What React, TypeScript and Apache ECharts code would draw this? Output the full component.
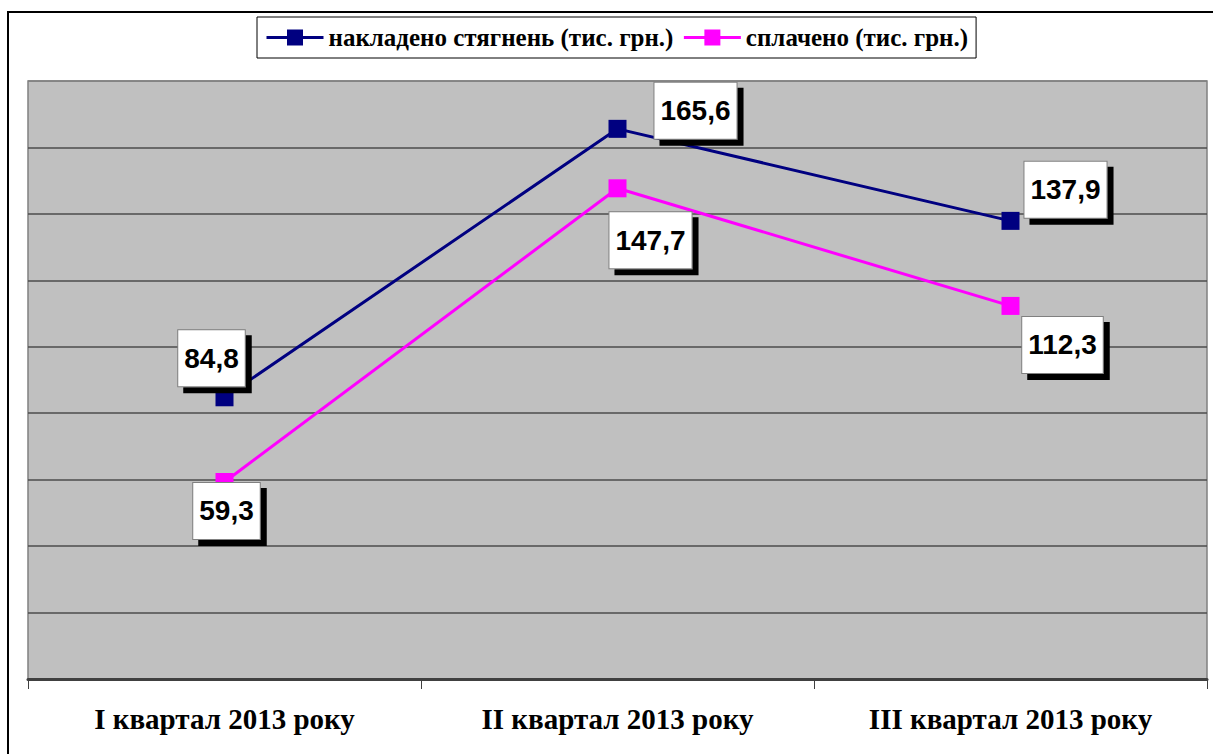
import React, { useEffect, useRef } from "react";
import * as echarts from "echarts";

const categories = ["I квартал 2013 року", "II квартал 2013 року", "III квартал 2013 року"];
const seriesNames = ["накладено стягнень (тис. грн.)", "сплачено (тис. грн.)"];
const imposed = [84.8, 165.6, 137.9];
const paid = [59.3, 147.7, 112.3];
const yMin = 0;
const yMax = 180;
const yInterval = 20;

// label placement offsets (style, not data)
const imposedOffsets = [[-13, -39], [78, -18], [55, -31]];
const paidOffsets = [[2, 29], [33, 52], [52, 39]];

const fmt = (v: number) => v.toFixed(1).replace(".", ",");

const labelStyle = {
  show: true,
  position: "inside",
  fontFamily: "Liberation Sans, Arial, sans-serif",
  fontWeight: "bold",
  fontSize: 28,
  lineHeight: 32,
  color: "#000",
  backgroundColor: "#fff",
  borderColor: "#808080",
  borderWidth: 1,
  padding: [12, 6, 12, 6],
  shadowColor: "#000",
  shadowBlur: 0,
  shadowOffsetX: 6,
  shadowOffsetY: 6,
};

export default function App() {
  const ref = useRef<HTMLDivElement>(null);
  useEffect(() => {
    if (!ref.current) return;
    const chart = echarts.init(ref.current, null, { renderer: "svg" });
    const mk = (vals: number[], offs: number[][]) =>
      vals.map((v, i) => ({
        value: v,
        label: { offset: offs[i], formatter: () => fmt(v) },
      }));
    const splitColors = Array.from({ length: 10 }, (_, i) => (i === 9 ? "#808080" : "#4d4d4d"));
    chart.setOption({
      animation: false,
      backgroundColor: "#fff",
      graphic: [
        {
          type: "rect",
          shape: { x: 8, y: 12, width: 1400, height: 900 },
          style: { fill: "none", stroke: "#000", lineWidth: 2 },
          z: 100,
        },
      ],
      legend: {
        left: 257,
        top: 17,
        padding: [8, 8, 8, 8],
        backgroundColor: "#fff",
        borderColor: "#000",
        borderWidth: 1,
        itemWidth: 57,
        itemHeight: 20,
        itemGap: 9,
        lineStyle: { width: 3 },
        textStyle: {
          fontFamily: "Liberation Serif, Times New Roman, serif",
          fontWeight: "bold",
          fontSize: 25,
          color: "#000",
        },
        data: seriesNames,
      },
      grid: {
        left: 28,
        right: 6,
        top: 81,
        bottom: 75,
        show: true,
        backgroundColor: "#C0C0C0",
        borderColor: "#808080",
        borderWidth: 1.5,
      },
      xAxis: {
        type: "category",
        data: categories,
        boundaryGap: true,
        axisLine: { lineStyle: { color: "#404040", width: 3 } },
        axisTick: { show: true, length: 10, interval: 0, lineStyle: { color: "#404040", width: 1 } },
        axisLabel: {
          margin: 25,
          fontFamily: "Liberation Serif, Times New Roman, serif",
          fontWeight: "bold",
          fontSize: 29,
          color: "#000",
        },
      },
      yAxis: {
        type: "value",
        min: yMin,
        max: yMax,
        interval: yInterval,
        axisLabel: { show: false },
        axisLine: { show: false },
        axisTick: { show: false },
        splitLine: { lineStyle: { color: splitColors, width: 1.5 } },
      },
      series: [
        {
          name: seriesNames[0],
          type: "line",
          data: mk(imposed, imposedOffsets),
          symbol: "rect",
          symbolSize: 18,
          lineStyle: { color: "#000080", width: 3 },
          itemStyle: { color: "#000080" },
          label: labelStyle,
          z: 3,
        },
        {
          name: seriesNames[1],
          type: "line",
          data: mk(paid, paidOffsets),
          symbol: "rect",
          symbolSize: 18,
          lineStyle: { color: "#FF00FF", width: 3 },
          itemStyle: { color: "#FF00FF" },
          label: labelStyle,
          z: 3,
        },
      ],
    });
    return () => chart.dispose();
  }, []);
  return (
    <div
      ref={ref}
      style={{ position: "absolute", left: 0, top: 0, width: 1213, height: 754 }}
    />
  );
}
